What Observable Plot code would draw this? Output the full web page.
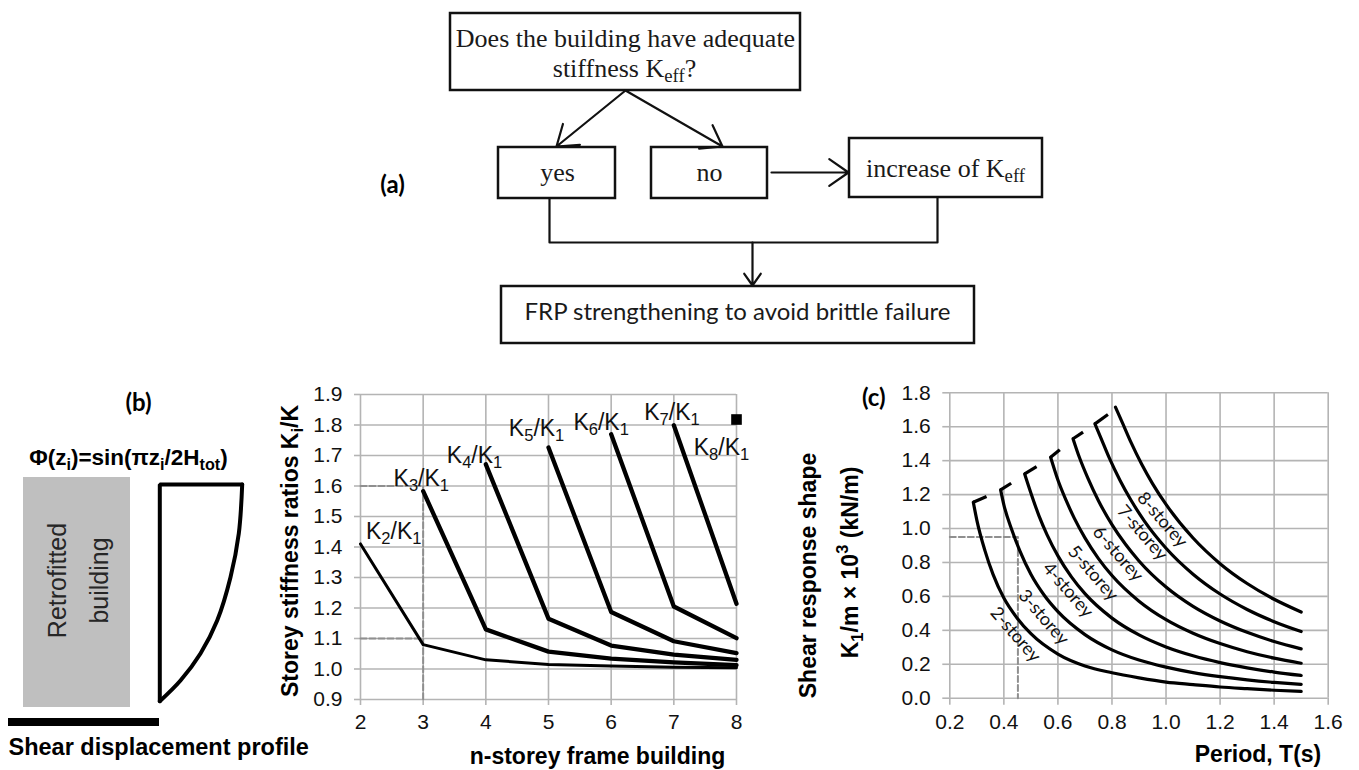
<!DOCTYPE html>
<html><head><meta charset="utf-8">
<script src="https://cdn.jsdelivr.net/npm/d3@7"></script>
<script src="https://cdn.jsdelivr.net/npm/@observablehq/plot@0.6"></script>
<style>
html,body{margin:0;padding:0;background:#fff;}
#fig{position:relative;width:1359px;height:770px;overflow:hidden;background:#fff;}
#fig svg{position:absolute;max-width:none;overflow:visible;}
</style></head><body><div id="fig"></div>
<script>
// ---------------- DATA: middle chart (storey stiffness ratios) ----------------
const storeys = [2, 3, 4, 5, 6, 7, 8];
const ratioK2 = [1.41, 1.08, 1.03, 1.015, 1.01, 1.006, 1.004];   // n = 2..8
const ratioK3 = [1.583, 1.13, 1.057, 1.034, 1.022, 1.013];       // n = 3..8
const ratioK4 = [1.671, 1.165, 1.077, 1.047, 1.03];             // n = 4..8
const ratioK5 = [1.726, 1.187, 1.091, 1.052];                   // n = 5..8
const ratioK6 = [1.77, 1.205, 1.101];                           // n = 6..8
const ratioK7 = [1.799, 1.214];                                 // n = 7..8
const ratioK8 = [1.818];                                        // n = 8
const ratioNames = ["K_{2}/K_{1}", "K_{3}/K_{1}", "K_{4}/K_{1}", "K_{5}/K_{1}", "K_{6}/K_{1}", "K_{7}/K_{1}", "K_{8}/K_{1}"];
const ratioLabelN = [2.53, 2.97, 3.82, 4.81, 5.84, 6.97, 7.76];
const ratioLabelY = [1.452, 1.624, 1.70, 1.788, 1.807, 1.84, 1.726];
const midXTicks = [2, 3, 4, 5, 6, 7, 8];
const midYTicks = [0.9, 1.0, 1.1, 1.2, 1.3, 1.4, 1.5, 1.6, 1.7, 1.8, 1.9];
const midGuideN = [2, 3, 3];
const midGuideY = [1.6, 1.6, 0.9];
const midGuide2N = [2, 3];
const midGuide2Y = [1.1, 1.1];

// ---------------- DATA: right chart (shear response shape) ----------------
const curveNames = ["2-storey", "3-storey", "4-storey", "5-storey", "6-storey", "7-storey", "8-storey"];
const T2 = [0.287, 0.30, 0.33, 0.36, 0.40, 0.45, 0.50, 0.60, 0.70, 0.80, 0.90, 1.00, 1.10, 1.20, 1.30, 1.40, 1.50];
const V2 = [1.155, 1.05, 0.87, 0.73, 0.59, 0.47, 0.38, 0.26, 0.19, 0.15, 0.12, 0.095, 0.08, 0.066, 0.056, 0.047, 0.04];
const T3 = [0.388, 0.40, 0.43, 0.46, 0.50, 0.55, 0.60, 0.70, 0.80, 0.90, 1.00, 1.10, 1.20, 1.30, 1.40, 1.50];
const V3 = [1.228, 1.14, 0.99, 0.865, 0.73, 0.605, 0.51, 0.375, 0.285, 0.225, 0.183, 0.151, 0.127, 0.108, 0.093, 0.081];
const T4 = [0.477, 0.50, 0.53, 0.56, 0.60, 0.65, 0.70, 0.80, 0.90, 1.00, 1.10, 1.20, 1.30, 1.40, 1.50];
const V4 = [1.322, 1.21, 1.075, 0.963, 0.839, 0.715, 0.616, 0.472, 0.373, 0.302, 0.25, 0.21, 0.179, 0.154, 0.134];
const T5 = [0.573, 0.60, 0.63, 0.66, 0.70, 0.75, 0.80, 0.90, 1.00, 1.10, 1.20, 1.30, 1.40, 1.50];
const V5 = [1.42, 1.286, 1.167, 1.063, 0.945, 0.823, 0.723, 0.572, 0.463, 0.383, 0.322, 0.274, 0.236, 0.206];
const T6 = [0.656, 0.68, 0.71, 0.75, 0.80, 0.85, 0.90, 1.00, 1.10, 1.20, 1.30, 1.40, 1.50];
const V6 = [1.529, 1.417, 1.30, 1.164, 1.023, 0.907, 0.809, 0.655, 0.541, 0.455, 0.388, 0.334, 0.291];
const T7 = [0.737, 0.76, 0.79, 0.83, 0.87, 0.92, 1.00, 1.10, 1.20, 1.30, 1.40, 1.50];
const V7 = [1.617, 1.53, 1.416, 1.283, 1.168, 1.044, 0.884, 0.731, 0.614, 0.523, 0.451, 0.393];
const T8 = [0.813, 0.84, 0.87, 0.91, 0.95, 1.00, 1.10, 1.20, 1.30, 1.40, 1.50];
const V8 = [1.715, 1.618, 1.509, 1.379, 1.265, 1.142, 0.944, 0.793, 0.676, 0.583, 0.508];
const hookStartT = [0.287, 0.388, 0.477, 0.573, 0.656, 0.737];
const hookStartV = [1.155, 1.228, 1.322, 1.42, 1.529, 1.617];
const hookEndT = [0.336, 0.427, 0.521, 0.607, 0.693, 0.785];
const hookEndV = [1.189, 1.267, 1.365, 1.464, 1.568, 1.672];
const curveLabelT = [0.443, 0.547, 0.637, 0.730, 0.822, 0.912, 0.986];
const curveLabelV = [0.375, 0.477, 0.638, 0.737, 0.851, 0.975, 1.052];
const rightXTicks = [0.2, 0.4, 0.6, 0.8, 1.0, 1.2, 1.4, 1.6];
const rightYTicks = [0.0, 0.2, 0.4, 0.6, 0.8, 1.0, 1.2, 1.4, 1.6, 1.8];
const rightGuideT = [0.2, 0.452, 0.452];
const rightGuideV = [0.95, 0.95, 0.0];

// ---------------- DIAGRAM LAYOUT (flowchart + panel b, page pixels) ----------------
const flowBoxes = [
  {id: "question", x1: 450, x2: 800, y1: 13, y2: 90},
  {id: "yes", x1: 498, x2: 615, y1: 147, y2: 198},
  {id: "no", x1: 651, x2: 767, y1: 147, y2: 198},
  {id: "increase", x1: 849, x2: 1042, y1: 138, y2: 197},
  {id: "frp", x1: 501, x2: 974, y1: 286, y2: 343}
];
const flowSerifText = [
  {t: "Does the building have adequate", x: 625, y: 38},
  {t: "stiffness K_{eff}?", x: 624, y: 68},
  {t: "yes", x: 557, y: 172},
  {t: "no", x: 709, y: 172},
  {t: "increase of K_{eff}", x: 945, y: 168}
];
const flowSansText = [{t: "FRP strengthening to avoid brittle failure", x: 737, y: 312}];
const flowArrows = [
  {x1: 625, y1: 90, x2: 556, y2: 146},
  {x1: 625, y1: 90, x2: 722, y2: 146},
  {x1: 771, y1: 172, x2: 848, y2: 172},
  {x1: 752, y1: 242, x2: 752, y2: 285}
];
const flowConnector = [{x: 549, y: 198}, {x: 549, y: 242}, {x: 937, y: 242}, {x: 937, y: 197}];
const panelLabels = [{t: "(a)", x: 392, y: 185}, {t: "(b)", x: 138, y: 403}];
const buildingRect = [{x1: 23, x2: 130, y1: 477, y2: 707}];
const baseBar = [{x1: 8, x2: 159, y1: 718, y2: 726}];
const buildingText = [{t: "Retrofitted", x: 57, y: 580}, {t: "building", x: 99, y: 580}];
const profileCurve = [{x: 241.7, y: 484}, {x: 238.3, y: 533}, {x: 230, y: 576.7}, {x: 216.7, y: 620}, {x: 200, y: 653}, {x: 180, y: 680}, {x: 159.3, y: 700.7}];
const profileEdges = [{x: 159.3, y: 700.7}, {x: 159.3, y: 484}, {x: 241.7, y: 484}];

// ---------------- styles ----------------
const SANS = "'Liberation Sans', Arial, sans-serif";
const CAL = "Lato, 'Open Sans', sans-serif";
const SERIF = "'Liberation Serif', 'Times New Roman', serif";
const GRID = "#b4b4b4";

function richify(svg) {
  const NS = "http://www.w3.org/2000/svg";
  svg.querySelectorAll("text, tspan").forEach(el => {
    [...el.childNodes].forEach(node => {
      if (node.nodeType !== 3 || !/[_^]\{/.test(node.nodeValue)) return;
      const s = node.nodeValue, re = /([_^])\{([^}]*)\}/g;
      let last = 0, m; const parts = [];
      while ((m = re.exec(s))) {
        if (m.index > last) parts.push([s.slice(last, m.index), null]);
        parts.push([m[2], m[1]]);
        last = re.lastIndex;
      }
      if (last < s.length) parts.push([s.slice(last), null]);
      for (const [t, kind] of parts) {
        if (!kind) { el.insertBefore(document.createTextNode(t), node); continue; }
        const ts = document.createElementNS(NS, "tspan");
        ts.textContent = t;
        ts.setAttribute("font-size", "72%");
        ts.setAttribute("baseline-shift", kind === "_" ? "-0.28em" : "0.6em");
        el.insertBefore(ts, node);
      }
      el.removeChild(node);
    });
  });
}
function place(svg, left, top) {
  svg.style.left = left + "px"; svg.style.top = top + "px";
  richify(svg);
  document.getElementById("fig").appendChild(svg);
}

// ---------------- diagram layer ----------------
const diagram = Plot.plot({
  width: 1359, height: 770, margin: 0, axis: null,
  x: {type: "identity"}, y: {type: "identity"},
  style: {background: "transparent", color: "#000"},
  marks: [
    Plot.rect(flowBoxes, {x1: "x1", x2: "x2", y1: "y1", y2: "y2", fill: "white", stroke: "#111", strokeWidth: 2.5}),
    Plot.line(flowConnector, {x: "x", y: "y", stroke: "#111", strokeWidth: 2.2, curve: "linear"}),
    Plot.arrow(flowArrows, {x1: "x1", y1: "y1", x2: "x2", y2: "y2", stroke: "#111", strokeWidth: 2.2, headLength: 16, headAngle: 70}),
    Plot.text(flowSerifText, {x: "x", y: "y", text: "t", fontFamily: SERIF, fontSize: 26, fill: "#1a1a1a"}),
    Plot.text(flowSansText, {x: "x", y: "y", text: "t", fontFamily: CAL, fontSize: 24, fill: "#1a1a1a"}),
    Plot.text(panelLabels, {x: "x", y: "y", text: "t", fontFamily: CAL, fontSize: 24, fontWeight: "bold", fill: "#000"}),
    Plot.text(["Φ(z_{i})=sin(πz_{i}/2H_{tot})"], {x: 128, y: 457, text: d => d, fontFamily: SANS, fontSize: 22.5, fontWeight: "bold"}),
    Plot.rect(buildingRect, {x1: "x1", x2: "x2", y1: "y1", y2: "y2", fill: "#bfbfbf"}),
    Plot.text(buildingText, {x: "x", y: "y", text: "t", rotate: -90, fontFamily: SANS, fontSize: 25, fill: "#262626"}),
    Plot.rect(baseBar, {x1: "x1", x2: "x2", y1: "y1", y2: "y2", fill: "#000"}),
    Plot.line(profileCurve, {x: "x", y: "y", stroke: "#000", strokeWidth: 4, curve: "catmull-rom"}),
    Plot.line(profileEdges, {x: "x", y: "y", stroke: "#000", strokeWidth: 4, strokeLinejoin: "miter"}),
    Plot.text(["Shear displacement profile"], {x: 8, y: 747, text: d => d, textAnchor: "start", fontFamily: SANS, fontSize: 23.5, fontWeight: "bold"})
  ]
});
place(diagram, 0, 0);

// ---------------- middle chart ----------------
const ratioSeries = [ratioK2, ratioK3, ratioK4, ratioK5, ratioK6, ratioK7, ratioK8];
const ratioRows = ratioSeries.flatMap((vals, i) => vals.map((v, k) => ({series: ratioNames[i], n: storeys[i + k], ratio: v})));
const ratioLabels = ratioNames.map((name, i) => ({name, n: ratioLabelN[i], y: ratioLabelY[i]}));
const midGuide1 = midGuideN.map((n, i) => ({n, y: midGuideY[i]}));
const midGuide2 = midGuide2N.map((n, i) => ({n, y: midGuide2Y[i]}));

const mid = Plot.plot({
  width: 500, height: 400,
  marginLeft: 100, marginRight: 24, marginTop: 24, marginBottom: 71,
  x: {domain: [2, 8]}, y: {domain: [0.9, 1.9]},
  style: {background: "transparent", fontFamily: SANS, fontSize: "21px", color: "#000"},
  marks: [
    Plot.gridX(midXTicks, {stroke: GRID, strokeOpacity: 1, strokeWidth: 1.6}),
    Plot.gridY(midYTicks, {stroke: GRID, strokeOpacity: 1, strokeWidth: 1.6}),
    Plot.axisX(midXTicks, {tickSize: 6, tickPadding: 9, stroke: GRID, strokeWidth: 1.6, label: null, fontSize: 21, color: "#111"}),
    Plot.axisY(midYTicks, {tickSize: 6, tickPadding: 12, stroke: GRID, strokeWidth: 1.6, label: null, fontSize: 21, color: "#111", tickFormat: d3.format(".1f")}),
    Plot.line(midGuide1, {x: "n", y: "y", stroke: "#8f8f8f", strokeWidth: 2, strokeDasharray: "6,3"}),
    Plot.line(midGuide2, {x: "n", y: "y", stroke: "#8f8f8f", strokeWidth: 2, strokeDasharray: "6,3"}),
    Plot.line(ratioRows.filter(d => d.series === ratioNames[0]), {x: "n", y: "ratio", stroke: "#000", strokeWidth: 3}),
    Plot.line(ratioRows.filter(d => d.series !== ratioNames[0] && d.series !== ratioNames[6]), {x: "n", y: "ratio", z: "series", stroke: "#000", strokeWidth: 4.3}),
    Plot.dot(ratioRows.filter(d => d.series === ratioNames[6]), {x: "n", y: "ratio", symbol: "square", r: 6, fill: "#000"}),
    Plot.text(ratioLabels, {x: "n", y: "y", text: "name", fontSize: 23, fill: "#111"}),
    Plot.text(["n-storey frame building"], {frameAnchor: "bottom", lineAnchor: "middle", dx: 49, dy: 57, text: d => d, fontSize: 23, fontWeight: "bold"}),
    Plot.text(["Storey stiffness ratios K_{i}/K"], {frameAnchor: "left", textAnchor: "middle", lineAnchor: "middle", dx: -70, dy: 4, rotate: -90, text: d => d, fontSize: 23, fontWeight: "bold"})
  ]
});
place(mid, 260, 370);

// ---------------- right chart ----------------
const curveT = [T2, T3, T4, T5, T6, T7, T8];
const curveV = [V2, V3, V4, V5, V6, V7, V8];
const curveRows = curveNames.flatMap((name, i) => curveT[i].map((t, k) => ({name, T: t, v: curveV[i][k]})));
const hooks = hookStartT.map((t, i) => ({t1: t, v1: hookStartV[i], t2: hookEndT[i], v2: hookEndV[i]}));
const curveLabels = curveNames.map((name, i) => ({name, T: curveLabelT[i], v: curveLabelV[i]}));
const rightGuide = rightGuideT.map((t, i) => ({T: t, v: rightGuideV[i]}));

const right = Plot.plot({
  width: 569, height: 400,
  marginLeft: 159.3, marginRight: 31.3, marginTop: 22.3, marginBottom: 72.3,
  x: {domain: [0.2, 1.6]}, y: {domain: [0, 1.8]},
  style: {background: "transparent", fontFamily: SANS, fontSize: "21px", color: "#000"},
  marks: [
    Plot.gridX(rightXTicks, {stroke: GRID, strokeOpacity: 1, strokeWidth: 1.6}),
    Plot.gridY(rightYTicks, {stroke: GRID, strokeOpacity: 1, strokeWidth: 1.6}),
    Plot.axisX(rightXTicks, {tickSize: 7, tickPadding: 9, stroke: GRID, strokeWidth: 1.6, label: null, fontSize: 21, color: "#111", tickFormat: d3.format(".1f")}),
    Plot.axisY(rightYTicks, {tickSize: 7, tickPadding: 12, stroke: GRID, strokeWidth: 1.6, label: null, fontSize: 21, color: "#111", tickFormat: d3.format(".1f")}),
    Plot.line(rightGuide, {x: "T", y: "v", stroke: "#8f8f8f", strokeWidth: 2, strokeDasharray: "6,3"}),
    Plot.line(curveRows, {x: "T", y: "v", z: "name", stroke: "#000", strokeWidth: 3.2, curve: "monotone-x"}),
    Plot.link(hooks, {x1: "t1", y1: "v1", x2: "t2", y2: "v2", stroke: "#000", strokeWidth: 3.2}),
    Plot.text(curveLabels, {x: "T", y: "v", text: "name", rotate: 49, fontFamily: CAL, fontSize: 18, fill: "#111"}),
    Plot.text(["(c)"], {frameAnchor: "top-left", textAnchor: "middle", lineAnchor: "middle", dx: -76, dy: 6, text: d => d, fontFamily: CAL, fontSize: 24, fontWeight: "bold"}),
    Plot.text(["Period, T(s)"], {frameAnchor: "bottom", lineAnchor: "middle", dx: 119, dy: 56, text: d => d, fontSize: 23, fontWeight: "bold"}),
    Plot.text(["Shear response shape"], {frameAnchor: "left", textAnchor: "middle", lineAnchor: "middle", dx: -141, dy: 30, rotate: -90, text: d => d, fontSize: 23, fontWeight: "bold"}),
    Plot.text(["K_{1}/m × 10^{3} (kN/m)"], {frameAnchor: "left", textAnchor: "middle", lineAnchor: "middle", dx: -99, dy: 17, rotate: -90, text: d => d, fontSize: 23, fontWeight: "bold"})
  ]
});
place(right, 790, 370);
</script>
</body></html>
